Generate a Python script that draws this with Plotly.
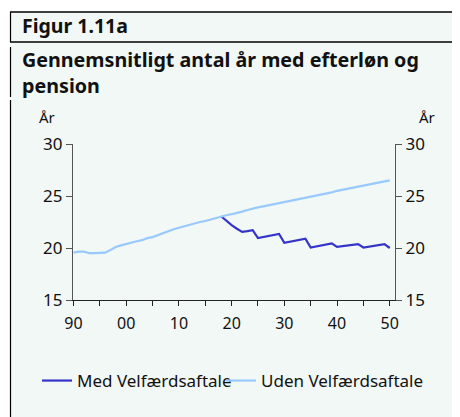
import plotly.graph_objects as go

years = list(range(1990, 2051))
uden = [19.55, 19.65, 19.65, 19.5, 19.5, 19.5, 19.55, 19.8, 20.1, 20.25,
        20.4, 20.5, 20.65, 20.75, 20.95, 21.05, 21.25, 21.45, 21.65, 21.8,
        21.95, 22.1, 22.2, 22.35, 22.5, 22.6, 22.75, 22.9, 23.05, 23.15,
        23.25, 23.35, 23.5, 23.65, 23.8, 23.9, 24.0, 24.1, 24.25, 24.35,
        24.45, 24.55, 24.65, 24.75, 24.85, 24.97, 25.05, 25.15, 25.25, 25.35,
        25.5, 25.6, 25.7, 25.8, 25.9, 26.0, 26.1, 26.2, 26.3, 26.4, 26.5]
med_years = list(range(2018, 2051))
med = [23.05, 22.6, 22.2, 21.85, 21.55, 21.62, 21.72, 20.95, 21.05, 21.15,
       21.25, 21.35, 20.5, 20.6, 20.7, 20.8, 20.9, 20.05, 20.15, 20.25,
       20.35, 20.45, 20.1, 20.17, 20.24, 20.31, 20.38, 20.05, 20.12, 20.2,
       20.28, 20.38, 20.0]

xticks = list(range(1990, 2051, 5))
xlabels = ["90", "", "00", "", "10", "", "20", "", "30", "", "40", "", "50"]
yticks = [15, 20, 25, 30]

FONT = "Noto Sans"
bg = "#f1f8f5"

# page body has an 8px margin; figure is sized to fill the rest of the window
OFF = 8
W, H = 460 - OFF, 417 - OFF
ml, mt = 73 - OFF, 144 - OFF
pw, ph = 322, 156
mr, mb = W - ml - pw, H - mt - ph


def px(x):  # x in screen (reference) pixels -> paper
    return (x - OFF - ml) / pw


def py(y):  # y in screen (reference) pixels -> paper
    return (H - (y - OFF) - mb) / ph


fig = go.Figure()
fig.add_trace(go.Scatter(x=med_years, y=med, mode="lines", name="Med Velfærdsaftale",
                         line=dict(color="#3434c8", width=2.2), legend="legend"))
fig.add_trace(go.Scatter(x=years, y=uden, mode="lines", name="Uden Velfærdsaftale",
                         line=dict(color="#99c9ff", width=2.2), legend="legend2"))
fig.add_trace(go.Scatter(x=[years[0]], y=[uden[0]], yaxis="y2", mode="lines",
                         showlegend=False, hoverinfo="skip",
                         line=dict(color="rgba(0,0,0,0)")))

leg_common = dict(orientation="h", yanchor="middle", xanchor="left",
                  font=dict(size=17), bgcolor="rgba(0,0,0,0)", borderwidth=0)
fig.update_layout(
    width=W, height=H,
    paper_bgcolor="white", plot_bgcolor=bg,
    margin=dict(l=ml, r=mr, t=mt, b=mb, autoexpand=False),
    font=dict(family=FONT, size=15, color="#111"),
    showlegend=True,
    legend=dict(x=px(37), y=py(381), **leg_common),
    legend2=dict(x=px(221), y=py(381), **leg_common),
    xaxis=dict(range=[1989.9, 2051], tickmode="array", tickvals=xticks, ticktext=xlabels,
               ticks="outside", ticklen=5, tickcolor="#222", showline=True,
               linecolor="#222", linewidth=1.3, showgrid=False, zeroline=False,
               tickfont=dict(size=16), ticklabelstandoff=4),
    yaxis=dict(range=[15, 30], tickvals=yticks, ticks="outside", ticklen=6,
               tickcolor="#555", showline=True, linecolor="#555", linewidth=1.3,
               showgrid=False, zeroline=False, tickfont=dict(size=17)),
    yaxis2=dict(range=[15, 30], tickvals=yticks, ticks="outside", ticklen=6,
                tickcolor="#555", showline=True, linecolor="#555", linewidth=1.3,
                showgrid=False, zeroline=False, overlaying="y", side="right",
                tickfont=dict(size=17)),
)

shapes = [dict(type="rect", xref="paper", yref="paper", x0=px(10), x1=px(470),
               y0=py(430), y1=py(12), fillcolor=bg, line=dict(width=0), layer="below")]
for (ya, yb) in [(12, 42), (47, 97), (100, 430)]:
    shapes.append(dict(type="line", xref="paper", yref="paper", x0=px(10.5), x1=px(10.5),
                       y0=py(ya), y1=py(yb), line=dict(color="black", width=1.2)))
for yy in [12, 42]:
    shapes.append(dict(type="line", xref="paper", yref="paper", x0=px(10), x1=px(470),
                       y0=py(yy), y1=py(yy), line=dict(color="black", width=1.5)))
fig.update_layout(shapes=shapes)

annots = [
    dict(text="<b>Figur 1.11a</b>", x=px(20), y=py(25), xanchor="left", yanchor="middle",
         font=dict(size=19.5)),
    dict(text="<b>Gennemsnitligt antal år med efterløn og<br>pension</b>", x=px(20), y=py(72),
         xanchor="left", yanchor="middle", font=dict(size=19.7), align="left"),
    dict(text="År", x=px(47), y=py(117), xanchor="center", yanchor="middle", font=dict(size=15)),
    dict(text="År", x=px(427), y=py(117), xanchor="center", yanchor="middle", font=dict(size=15)),
]
for a in annots:
    a.update(xref="paper", yref="paper", showarrow=False)
fig.update_layout(annotations=annots)

fig.write_html("out.html")
